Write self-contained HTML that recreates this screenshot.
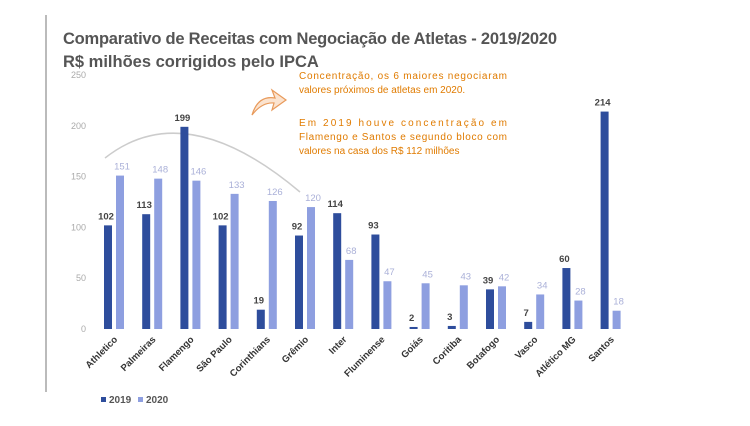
<!DOCTYPE html>
<html><head><meta charset="utf-8"><style>
body{margin:0;background:#fff;width:750px;height:421px;overflow:hidden;font-family:"Liberation Sans",sans-serif}
</style></head><body>
<svg width="750" height="421" viewBox="0 0 750 421" xmlns="http://www.w3.org/2000/svg" id="svg">
<line x1="46" y1="15" x2="46" y2="392" stroke="#777" stroke-width="1"/>
<text x="63" y="44" font-size="16.5" font-weight="bold" fill="#555" textLength="494">Comparativo de Receitas com Negociação de Atletas - 2019/2020</text>
<text x="63" y="67" font-size="16.5" font-weight="bold" fill="#555">R$ milhões corrigidos pelo IPCA</text>
<path d="M105,158 Q185,95 300,192" fill="none" stroke="#ccc" stroke-width="1.5"/>
<path d="M252,115 Q258,95 275,98 L272,90 L286,100 L272,110 L274,103 Q262,102 252,115 Z" fill="#fbe3cf" stroke="#e89a5b" stroke-width="1.2"/>
<g font-size="10" fill="#e07b00">
<text x="299" y="79" textLength="208">Concentração, os 6 maiores negociaram</text>
<text x="299" y="93">valores próximos de atletas em 2020.</text>
<text x="299" y="126" textLength="208">Em 2019 houve concentração em</text>
<text x="299" y="140" textLength="208">Flamengo e Santos e segundo bloco com</text>
<text x="299" y="154">valores na casa dos R$ 112 milhões</text>
</g>
<g id="axis"></g><g id="bars"></g>
<g>
<rect x="101" y="397" width="5" height="5" fill="#2e4d9c"/>
<text x="109" y="403" font-size="10" font-weight="bold" fill="#555">2019</text>
<rect x="138" y="397" width="5" height="5" fill="#8e9fe0"/>
<text x="146" y="403" font-size="10" font-weight="bold" fill="#555">2020</text>
</g>
</svg>
<script>
const categories=["Athletico","Palmeiras","Flamengo","São Paulo","Corinthians","Grêmio","Inter","Fluminense","Goiás","Coritiba","Botafogo","Vasco","Atlético MG","Santos"];
const values2019=[102,113,199,102,19,92,114,93,2,3,39,7,60,214];
const values2020=[151,148,146,133,126,120,68,47,45,43,42,34,28,18];
const yTicks=[0,50,100,150,200,250];
const NS="http://www.w3.org/2000/svg";
const y0=329,k=1.016,x0=108,step=38.2;
const y=v=>y0-v*k, x=i=>x0+i*step;
function mk(t,a,p){const e=document.createElementNS(NS,t);for(const n in a)e.setAttribute(n,a[n]);p.appendChild(e);return e;}
const ax=document.getElementById('axis'),bg=document.getElementById('bars');
yTicks.forEach(t=>{const e=mk('text',{x:86,y:y(t)+3,'font-size':9,fill:'#aaa','text-anchor':'end'},ax);e.textContent=t;

});
categories.forEach((c,i)=>{
 const cx=x(i);
 const b1=mk('rect',{x:cx-4,y:y(values2019[i]),width:8,height:values2019[i]*k,fill:'#2e4d9c'},bg);
 
 
 const b2=mk('rect',{x:cx+8,y:y(values2020[i]),width:8,height:values2020[i]*k,fill:'#8e9fe0'},bg);
 
 
 const l1=mk('text',{x:cx-2,y:y(values2019[i])-6,'font-size':9.5,'font-weight':'bold',fill:'#444','text-anchor':'middle'},bg);l1.textContent=values2019[i];
 
 
 const l2=mk('text',{x:cx+14,y:y(values2020[i])-6,'font-size':9.5,fill:'#aab0d8','text-anchor':'middle'},bg);l2.textContent=values2020[i];
 
 
 const cl=mk('text',{x:cx+10,y:340,'font-size':9.5,'font-weight':'bold',fill:'#333','text-anchor':'end',transform:`rotate(-45 ${cx+10} 340)`},bg);cl.textContent=c;
 
 
});
</script>
</body></html>
